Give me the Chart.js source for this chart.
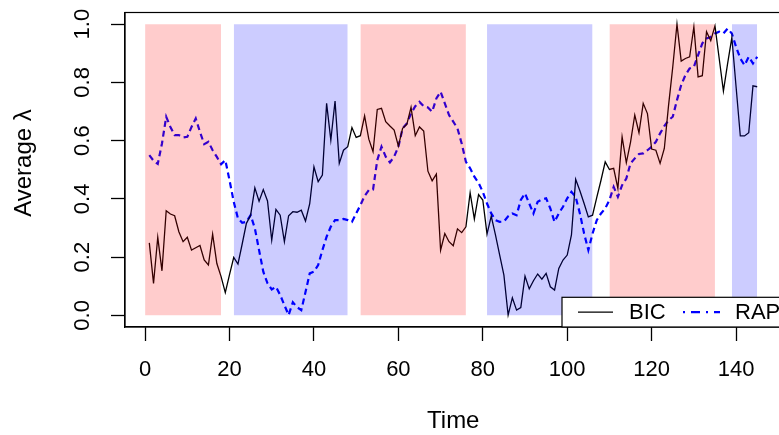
<!DOCTYPE html>
<html>
<head>
<meta charset="utf-8">
<script src="https://cdn.jsdelivr.net/npm/chart.js@4.4.0/dist/chart.umd.min.js"></script>
<style>
  html, body { margin: 0; padding: 0; background: #fff; overflow: hidden; }
  #wrap { width: 790px; height: 435px; }
</style>
</head>
<body>
<div id="wrap"><canvas id="lambdaChart" width="790" height="435"></canvas></div>
<script>
// values, time steps 1..145
const bicValues = [
  0.249, 0.110, 0.268, 0.153, 0.359, 0.348, 0.342, 0.287, 0.253, 0.268,
  0.224, 0.232, 0.240, 0.190, 0.173, 0.279, 0.178, 0.133, 0.078, 0.140,
  0.199, 0.176, 0.245, 0.316, 0.344, 0.438, 0.392, 0.432, 0.393, 0.258,
  0.364, 0.344, 0.253, 0.342, 0.356, 0.354, 0.361, 0.324, 0.384, 0.510,
  0.459, 0.482, 0.728, 0.602, 0.736, 0.522, 0.567, 0.579, 0.645, 0.611,
  0.617, 0.685, 0.605, 0.562, 0.707, 0.711, 0.665, 0.650, 0.636, 0.581,
  0.642, 0.656, 0.714, 0.617, 0.647, 0.633, 0.495, 0.462, 0.485, 0.224,
  0.281, 0.253, 0.239, 0.297, 0.284, 0.304, 0.421, 0.331, 0.415, 0.396,
  0.279, 0.341, 0.276, 0.207, 0.138, 0.001, 0.060, 0.018, 0.027, 0.135,
  0.091, 0.119, 0.142, 0.124, 0.144, 0.098, 0.087, 0.161, 0.190, 0.207,
  0.276, 0.467, 0.428, 0.384, 0.338, 0.344, 0.405, 0.464, 0.527, 0.501,
  0.505, 0.436, 0.613, 0.524, 0.595, 0.688, 0.627, 0.728, 0.693, 0.571,
  0.567, 0.522, 0.573, 0.720, 0.853, 1.000, 0.873, 0.882, 0.888, 0.991,
  0.819, 0.823, 0.974, 0.943, 0.994, 0.882, 0.770, 0.865, 0.954, 0.785,
  0.616, 0.616, 0.627, 0.788, 0.785
];
const rapValues = [
  0.550, 0.531, 0.520, 0.590, 0.682, 0.647, 0.619, 0.619, 0.611, 0.613,
  0.647, 0.676, 0.630, 0.588, 0.596, 0.567, 0.544, 0.519, 0.533, 0.464,
  0.390, 0.333, 0.318, 0.321, 0.344, 0.299, 0.224, 0.150, 0.110, 0.089,
  0.098, 0.070, 0.035, 0.001, 0.045, 0.028, 0.018, 0.080, 0.144, 0.150,
  0.173, 0.224, 0.270, 0.305, 0.327, 0.327, 0.331, 0.327, 0.321, 0.350,
  0.378, 0.410, 0.430, 0.432, 0.533, 0.579, 0.545, 0.525, 0.545, 0.579,
  0.642, 0.659, 0.693, 0.718, 0.733, 0.718, 0.714, 0.699, 0.745, 0.768,
  0.728, 0.688, 0.665, 0.642, 0.590, 0.527, 0.505, 0.476, 0.455, 0.424,
  0.384, 0.350, 0.327, 0.321, 0.322, 0.340, 0.350, 0.344, 0.396, 0.419,
  0.384, 0.350, 0.390, 0.398, 0.402, 0.367, 0.321, 0.350, 0.373, 0.402,
  0.424, 0.407, 0.350, 0.281, 0.224, 0.281, 0.327, 0.350, 0.367, 0.396,
  0.441, 0.407, 0.447, 0.470, 0.522, 0.539, 0.554, 0.556, 0.567, 0.579,
  0.596, 0.625, 0.650, 0.670, 0.682, 0.739, 0.791, 0.825, 0.848, 0.853,
  0.894, 0.934, 0.951, 0.956, 0.968, 0.974, 0.968, 0.985, 0.968, 0.922,
  0.882, 0.859, 0.888, 0.865, 0.888
];
const firstTime = 1;

// shaded regimes
const regionStart = [0, 21, 51, 81, 110, 139];
const regionEnd = [18, 48, 76, 106, 135, 145];
const regionKind = ['red', 'blue', 'red', 'blue', 'red', 'blue'];

const xTicks = [0, 20, 40, 60, 80, 100, 120, 140];
const yTicks = [0, 0.2, 0.4, 0.6, 0.8, 1.0];
const yTickLabels = ['0.0', '0.2', '0.4', '0.6', '0.8', '1.0'];

const FAMILY = '"Liberation Sans", Arial, Helvetica, sans-serif';
const TICK_FONT = '22px ' + FAMILY;
const TITLE_FONT = '24px ' + FAMILY;
const RAP_DASH = [6, 4];
const RAP_LEGEND_DASH = [2, 6, 9, 6];

function toPoints(values) {
    return values.map((v, i) => ({ x: i + firstTime, y: v }));
}

const regionFill = {
    red: 'rgba(255, 0, 0, 0.2)',
    blue: 'rgba(0, 0, 255, 0.2)'
};

const regionSets = regionStart.map((s, i) => ({
    label: 'region' + i,
    data: [{ x: s, y: 1 }, { x: regionEnd[i], y: 1 }],
    fill: 'origin',
    backgroundColor: regionFill[regionKind[i]],
    borderWidth: 0,
    pointRadius: 0,
    order: 0
}));

const lineSets = [
    {
        label: 'BIC',
        data: toPoints(bicValues),
        borderColor: '#000000',
        borderWidth: 1.3,
        pointRadius: 0,
        fill: false,
        tension: 0,
        order: 1
    },
    {
        label: 'RAP',
        data: toPoints(rapValues),
        borderColor: '#0000ff',
        borderWidth: 2.2,
        borderDash: RAP_DASH,
        pointRadius: 0,
        fill: false,
        tension: 0,
        order: 1
    }
];

// box, tick labels, axis titles and the legend, R-style
const decorations = {
    id: 'decorations',
    afterDraw(chart) {
        const ctx = chart.ctx;
        const area = chart.chartArea;
        const xs = chart.scales.x;
        const ys = chart.scales.y;

        ctx.save();
        ctx.strokeStyle = '#000';
        ctx.lineWidth = 1.2;
        ctx.strokeRect(area.left, area.top, area.right - area.left, area.bottom - area.top);

        ctx.fillStyle = '#000';
        ctx.font = TICK_FONT;
        ctx.textAlign = 'center';
        ctx.textBaseline = 'middle';
        xTicks.forEach(v => {
            ctx.fillText(String(v), xs.getPixelForValue(v), 370);
        });
        yTicks.forEach((v, i) => {
            ctx.save();
            ctx.translate(83, ys.getPixelForValue(v));
            ctx.rotate(-Math.PI / 2);
            ctx.fillText(yTickLabels[i], 0, 0);
            ctx.restore();
        });

        ctx.font = TITLE_FONT;
        ctx.fillText('Time', (area.left + area.right) / 2, 421);
        ctx.save();
        ctx.translate(24, 163);
        ctx.rotate(-Math.PI / 2);
        ctx.fillText('Average λ', 0, 0);
        ctx.restore();

        // legend, bottom right, running off the edge
        const lx = 562, ly = 297.3, lh = area.bottom - ly;
        ctx.fillStyle = '#fff';
        ctx.fillRect(lx, ly, 260, lh);
        ctx.strokeRect(lx, ly, 260, lh);
        const midY = ly + lh / 2;
        const bic = lineSets[0], rap = lineSets[1];

        ctx.beginPath();
        ctx.strokeStyle = bic.borderColor;
        ctx.lineWidth = bic.borderWidth;
        ctx.moveTo(578, midY);
        ctx.lineTo(613, midY);
        ctx.stroke();

        ctx.beginPath();
        ctx.strokeStyle = rap.borderColor;
        ctx.lineWidth = rap.borderWidth;
        ctx.setLineDash(RAP_LEGEND_DASH);
        ctx.moveTo(683, midY);
        ctx.lineTo(720, midY);
        ctx.stroke();
        ctx.setLineDash([]);

        ctx.fillStyle = '#000';
        ctx.font = TICK_FONT;
        ctx.textAlign = 'left';
        ctx.fillText(bic.label, 629, midY + 1);
        ctx.fillText(rap.label, 735, midY + 1);
        ctx.restore();
    }
};

const ctx = document.getElementById('lambdaChart').getContext('2d');
new Chart(ctx, {
    type: 'line',
    data: { datasets: regionSets.concat(lineSets) },
    options: {
        responsive: false,
        animation: false,
        devicePixelRatio: 1,
        layout: { padding: { left: 0, top: 12.5, right: 8.5, bottom: 0 } },
        plugins: {
            legend: { display: false },
            tooltip: { enabled: false },
            filler: { propagate: false }
        },
        scales: {
            x: {
                type: 'linear',
                min: -4.76,
                max: 150.76,
                afterBuildTicks: s => { s.ticks = xTicks.map(v => ({ value: v })); },
                afterFit: s => { s.height = 108; },
                ticks: { display: false },
                grid: {
                    drawOnChartArea: false,
                    drawTicks: true,
                    tickLength: 14,
                    tickWidth: 1.3,
                    tickColor: '#000'
                },
                border: { display: true, color: '#000', width: 1.2 }
            },
            y: {
                type: 'linear',
                min: -0.04,
                max: 1.04,
                afterBuildTicks: s => { s.ticks = yTicks.map(v => ({ value: v })); },
                afterFit: s => { s.width = 125; },
                ticks: { display: false },
                grid: {
                    drawOnChartArea: false,
                    drawTicks: true,
                    tickLength: 14,
                    tickWidth: 1.3,
                    tickColor: '#000'
                },
                border: { display: true, color: '#000', width: 1.2 }
            }
        }
    },
    plugins: [decorations]
});
</script>
</body>
</html>
